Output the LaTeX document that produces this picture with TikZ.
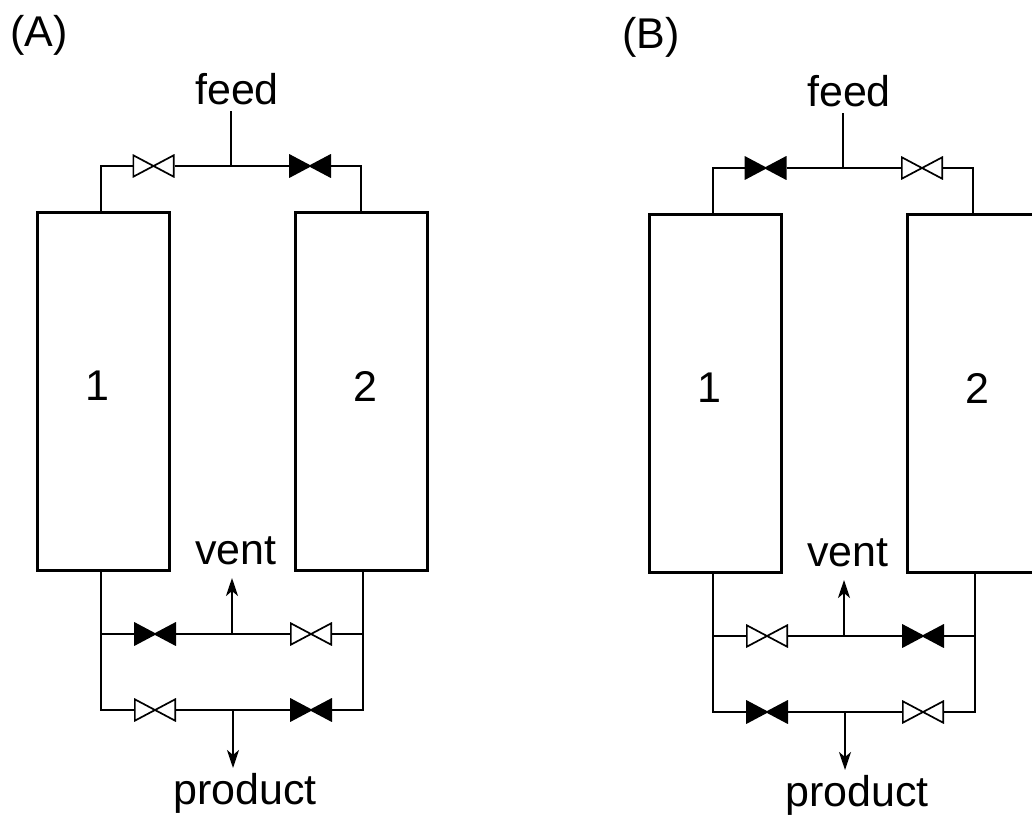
\documentclass[tikz,border=0pt]{standalone}
\usepackage{fontspec}
\setmainfont{Liberation Sans}
\usetikzlibrary{arrows.meta}

\tikzset{
    label text/.style={font=\fontsize{43}{48}\selectfont, inner sep=0pt},
    column/.style={draw, line width=3pt, minimum width=132pt, minimum height=358pt, inner sep=0pt},
    pipe/.style={line width=2.4pt},
    flow/.style={pipe, -{Stealth[length=18pt, width=12pt, inset=5pt]}},
    bowtie/.style={minimum width=42pt, minimum height=23pt, inner sep=0pt, outer sep=0pt,
        path picture={\draw[line width=1.7pt, fill=#1]
            ([shift={(.8pt,.8pt)}]path picture bounding box.south west) --
            ([shift={(-.8pt,-.8pt)}]path picture bounding box.north east) --
            ([shift={(-.8pt,.8pt)}]path picture bounding box.south east) --
            ([shift={(.8pt,-.8pt)}]path picture bounding box.north west) -- cycle;}},
    valveopen/.style={bowtie=white},
    valveshut/.style={bowtie=black}
}

\newcommand{\ColumnPanel}[7]{
    \node[label text] (tag) at (39,35) {(#1)};
    \node[label text] (feed) at (237,89) {feed};
    \node[label text] (vent) at (236,551) {vent};
    \node[label text] (product) at (245,793.5) {product};
    \node[column] (col1) at (103,391.5) {};
    \node[column] (col2) at (361.5,391.5) {};
    \node[label text] (num1) at (97,386) {1};
    \node[label text] (num2) at (365,386) {2};
    \node[#2] (topL) at (153.5,166) {};
    \node[#3] (topR) at (310,166) {};
    \node[#4] (ventL) at (155,634) {};
    \node[#5] (ventR) at (311,634) {};
    \node[#6] (prodL) at (155,710) {};
    \node[#7] (prodR) at (311,710) {};
    \coordinate (feedend) at (231,111);
    \coordinate (feedtee) at (231,166);
    \coordinate (ventend) at (232,578);
    \coordinate (venttee) at (232,634);
    \coordinate (prodend) at (233,768);
    \coordinate (prodtee) at (233,710);
    \coordinate (col1top) at (101,212);
    \coordinate (col2top) at (361,212);
    \coordinate (col1bot) at (101,571);
    \coordinate (col2bot) at (363,571);
    \draw[pipe] (col1top) |- (topL.west);
    \draw[pipe] (topL.east) -- (topR.west);
    \draw[pipe] (col2top) |- (topR.east);
    \draw[pipe] (feedend) -- (feedtee);
    \draw[pipe] (col1bot) |- (prodL.west);
    \draw[pipe] (col2bot) |- (prodR.east);
    \draw[pipe] (prodL.east) -- (prodR.west);
    \draw[pipe] (ventL.west) -- (ventL.west -| col1bot);
    \draw[pipe] (ventR.east) -- (ventR.east -| col2bot);
    \draw[pipe] (ventL.east) -- (ventR.west);
    \draw[flow] (venttee) -- (ventend);
    \draw[flow] (prodtee) -- (prodend);
}

\begin{document}
\begin{tikzpicture}[x=1pt, y=-1pt]
    \useasboundingbox (0,0) rectangle (1032,814);
    \clip (0,0) rectangle (1032,814);
    \begin{scope}[name prefix=A-]
        \ColumnPanel{A}{valveopen}{valveshut}{valveshut}{valveopen}{valveopen}{valveshut}
    \end{scope}
    \begin{scope}[name prefix=B-, shift={(612,2)}]
        \ColumnPanel{B}{valveshut}{valveopen}{valveopen}{valveshut}{valveshut}{valveopen}
    \end{scope}
\end{tikzpicture}
\end{document}
